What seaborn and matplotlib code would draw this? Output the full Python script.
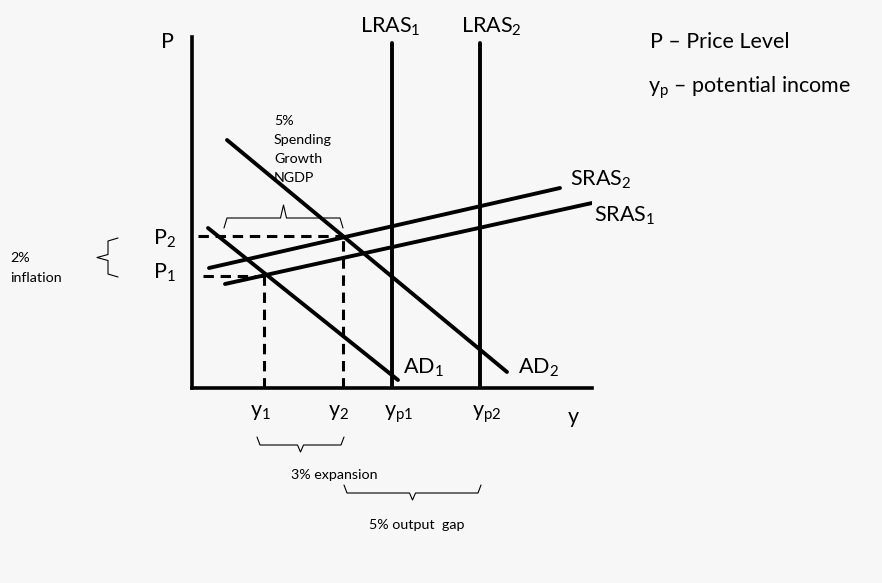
import numpy as np
import pandas as pd
import matplotlib
matplotlib.use("Agg")
import matplotlib.pyplot as plt
import seaborn as sns

#################################################################
# diagram data (quantity / price units, origin at the axis corner)
#################################################################

ad1_q = [16, 206]
ad1_p = [160, 8]
ad2_q = [35, 315]
ad2_p = [248, 16]
sras1_q = [33, 400]
sras1_p = [104, 185]
sras2_q = [17, 368]
sras2_p = [120, 200]
lras_q = [200, 288]          # yp1, yp2
lras_top = 345
p_levels = [112, 152]        # P1, P2
y_levels = [72, 151]         # y1, y2
p_dash_start = [11, 6]

curve_labels = ["AD$_{\\mathrm{1}}$", "AD$_{\\mathrm{2}}$",
                "SRAS$_{\\mathrm{1}}$", "SRAS$_{\\mathrm{2}}$"]

#################################################################
# style
#################################################################

sns.set_theme(style="white")
plt.rcParams["font.family"] = ["Lato", "DejaVu Sans"]
plt.rcParams["mathtext.fontset"] = "custom"
plt.rcParams["mathtext.rm"] = "Lato"
plt.rcParams["mathtext.it"] = "Lato:italic"

fig = plt.figure(figsize=(8.82, 5.83), dpi=100, facecolor="#f7f7f7")
ax = fig.add_axes([192 / 882, 195 / 583, 400 / 882, 351 / 583])
ax.set_facecolor("none")
ax.set_xlim(0, 400)
ax.set_ylim(0, 351)
ax.set_xticks([])
ax.set_yticks([])
for s in ["top", "right"]:
    ax.spines[s].set_visible(False)
for s in ["left", "bottom"]:
    ax.spines[s].set_linewidth(2.6)
    ax.spines[s].set_color("black")

#################################################################
# curves
#################################################################

rows = []
for name, q, p in [("AD1", ad1_q, ad1_p), ("AD2", ad2_q, ad2_p),
                   ("SRAS1", sras1_q, sras1_p), ("SRAS2", sras2_q, sras2_p),
                   ("LRAS1", [lras_q[0]] * 2, [0, lras_top]),
                   ("LRAS2", [lras_q[1]] * 2, [0, lras_top])]:
    for qq, pp in zip(q, p):
        rows.append({"curve": name, "q": qq, "p": pp})
curves = pd.DataFrame(rows)

sns.lineplot(data=curves, x="q", y="p", units="curve", estimator=None,
             sort=False, color="black", linewidth=2.8, ax=ax)

# dashed guides
guides = []
for i in range(2):
    guides.append({"g": f"h{i}", "q": p_dash_start[i], "p": p_levels[i]})
    guides.append({"g": f"h{i}", "q": y_levels[i], "p": p_levels[i]})
    guides.append({"g": f"v{i}", "q": y_levels[i], "p": 0})
    guides.append({"g": f"v{i}", "q": y_levels[i], "p": p_levels[i]})
guides = pd.DataFrame(guides)
sns.lineplot(data=guides, x="q", y="p", units="g", estimator=None,
             sort=False, color="black", linewidth=2.2, ax=ax,
             dashes=False, linestyle=(0, (3.4, 2.2)))
ax.set_xlabel("")
ax.set_ylabel("")

#################################################################
# labels
#################################################################

big = 15.5
kw = dict(fontsize=big, color="black", clip_on=False)
ax.text(-25, 346, "P", ha="center", va="center", **kw)
ax.text(381, -29, "y", ha="center", va="center", **kw)
ax.text(lras_q[0] - 2, 361, "LRAS$_{\\mathrm{1}}$", ha="center", va="center", **kw)
ax.text(lras_q[1] + 11, 361, "LRAS$_{\\mathrm{2}}$", ha="center", va="center", **kw)
ax.text(458, 346, "P – Price Level", ha="left", va="center", **kw)
ax.text(456, 300, "y$_{\\mathrm{p}}$ – potential income", ha="left", va="center", **kw)

ax.text(ad1_q[1] + 5, 20, curve_labels[0], ha="left", va="center", **kw)
ax.text(ad2_q[1] + 11, 20, curve_labels[1], ha="left", va="center", **kw)
ax.text(sras1_q[1] + 2, 172, curve_labels[2], ha="left", va="center", **kw)
ax.text(sras2_q[1] + 10, 208, curve_labels[3], ha="left", va="center", **kw)

ax.text(-39, p_levels[1] - 3, "P$_{\\mathrm{2}}$", ha="left", va="center", **kw)
ax.text(-39, p_levels[0] + 3, "P$_{\\mathrm{1}}$", ha="left", va="center", **kw)

ax.text(y_levels[0] - 4, -24, "y$_{\\mathrm{1}}$", ha="center", va="center", **kw)
ax.text(y_levels[1] - 4, -24, "y$_{\\mathrm{2}}$", ha="center", va="center", **kw)
ax.text(lras_q[0] + 7, -26, "y$_{\\mathrm{p1}}$", ha="center", va="center", **kw)
ax.text(lras_q[1] + 7, -26, "y$_{\\mathrm{p2}}$", ha="center", va="center", **kw)

small = dict(fontsize=10.3, color="black", clip_on=False)
ax.text(82, 273, "5%\nSpending\nGrowth\nNGDP", ha="left", va="top",
        linespacing=1.7, **small)
ax.text(-182, 120, "2%\ninflation", ha="left", va="center",
        linespacing=1.7, **small)
ax.text(142, -87, "3% expansion", ha="center", va="center", **small)
ax.text(225, -137, "5% output  gap", ha="center", va="center", **small)


#################################################################
# curly braces
#################################################################

def brace(a, b, base, tip, end, vertical=False):
    mid = (a + b) / 2
    c = 3
    s = np.array([a, a + c, mid - c, mid, mid + c, b - c, b])
    t = np.array([end, base, base, tip, base, base, end])
    if vertical:
        ax.plot(t, s, color="black", lw=0.8, clip_on=False)
    else:
        ax.plot(s, t, color="black", lw=0.8, clip_on=False)


brace(32, 151, 170, 183, 160)
brace(65, 152, -57, -64, -49)
brace(152, 289, -105, -112, -97)
brace(111, 150, -84, -95, -74, vertical=True)

fig.savefig("out.png", dpi=100, facecolor=fig.get_facecolor())
